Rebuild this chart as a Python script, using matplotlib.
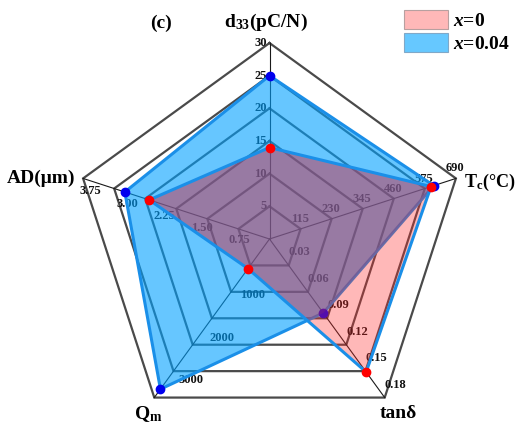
import numpy as np
import matplotlib
matplotlib.use('Agg')
import matplotlib.pyplot as plt
from matplotlib.patches import Polygon, Patch

# ---------------- data ----------------
axis_titles = ['d$_{33}$(pC/N)', 'T$_\\mathrm{c}$(°C)', 'tanδ', 'Q$_\\mathrm{m}$', 'AD(μm)']
axis_max = [30, 690, 0.18, 3750, 3.75]
series_labels = ['$x$=0', '$x$=0.04']
x0_values = [14, 598, 0.151, 700, 2.42]
x004_values = [25, 608, 0.084, 3550, 2.91]

d33_ticks = [5, 10, 15, 20, 25, 30]
tc_ticks = [115, 230, 345, 460, 575, 690]
tand_ticks = [0.03, 0.06, 0.09, 0.12, 0.15, 0.18]
tand_tick_labels = ['0.03', '0.06', '0.09', '0.12', '0.15', '0.18']
qm_ticks = [1000, 2000, 3000]
ad_ticks = [0.75, 1.50, 2.25, 3.00, 3.75]
ad_tick_labels = ['0.75', '1.50', '2.25', '3.00', '3.75']
n_rings = 6

# ---------------- style ----------------
plt.rcParams['font.family'] = ['Liberation Serif', 'DejaVu Serif']
plt.rcParams['font.weight'] = 'bold'
plt.rcParams['mathtext.fontset'] = 'custom'
plt.rcParams['mathtext.rm'] = 'Liberation Serif:bold'
plt.rcParams['mathtext.it'] = 'Liberation Serif:italic:bold'
plt.rcParams['mathtext.bf'] = 'Liberation Serif:bold'

W, H = 518, 432
CX, CY, R = 269.5, 239.0, 196.0

fig = plt.figure(figsize=(W / 100, H / 100), dpi=100)
ax = fig.add_axes([0, 0, 1, 1])
ax.set_xlim(-CX / R, (W - CX) / R)
ax.set_ylim(-(H - CY) / R, CY / R)
ax.set_aspect('equal')
ax.axis('off')

angles = np.deg2rad(90 - 72 * np.arange(5))


def xy(frac, i):
    return frac * np.cos(angles[i]), frac * np.sin(angles[i])


def pix(px, py):
    return (px - CX) / R, (CY - py) / R


# grid rings
for k in range(1, n_rings + 1):
    f = k / n_rings
    xs = [f * np.cos(a) for a in angles] + [f * np.cos(angles[0])]
    ys = [f * np.sin(a) for a in angles] + [f * np.sin(angles[0])]
    ax.plot(xs, ys, color='#4a4a4a', lw=1.6, zorder=1, solid_joinstyle='miter')

# spokes
for a in angles:
    ax.plot([0, np.cos(a)], [0, np.sin(a)], color='#1a1a1a', lw=0.8, zorder=1.2)

# tick labels
tk = dict(fontsize=9, fontweight='bold', textcoords='offset points', zorder=1.5,
          color='#111111')
P = 0.72  # px -> pt


def tick_labels(i, ticks, labels, ha, dx, dy):
    for t, lab in zip(ticks, labels):
        x, y = xy(t / axis_max[i], i)
        ax.annotate(lab, (x, y), xytext=(dx * P, dy * P), ha=ha, va='center', **tk)


tick_labels(0, d33_ticks, [str(t) for t in d33_ticks], 'right', -3, 0)
tick_labels(1, tc_ticks, [str(t) for t in tc_ticks], 'center', -1, 10)
tick_labels(2, tand_ticks, tand_tick_labels, 'left', 0, 13)
tick_labels(3, qm_ticks, [str(t) for t in qm_ticks], 'left', 1, -14)
tick_labels(4, ad_ticks, ad_tick_labels, 'left', -4, -13)


def series_xy(vals):
    fr = [v / m for v, m in zip(vals, axis_max)]
    pts = np.array([xy(f, i) for i, f in enumerate(fr)])
    return pts


edge_color = '#1a8fe8'

# x = 0.04 (blue)
pb = series_xy(x004_values)
blue_poly = Polygon(pb, closed=True, facecolor=(0.0, 0.63, 1.0), alpha=0.6,
                    edgecolor='none', zorder=2)
ax.add_patch(blue_poly)
ax.plot(np.append(pb[:, 0], pb[0, 0]), np.append(pb[:, 1], pb[0, 1]),
        color=edge_color, lw=2.2, zorder=2.1, solid_joinstyle='miter')
ax.plot(pb[:, 0], pb[:, 1], 'o', color='#0000ee', ms=6, zorder=2.2)

# x = 0 (red)
pr = series_xy(x0_values)
red_poly = Polygon(pr, closed=True, facecolor=(1.0, 0.16, 0.16), alpha=0.33,
                   edgecolor='none', zorder=3)
ax.add_patch(red_poly)
ov = Polygon(pr, closed=True, facecolor=(0.6, 0.2, 0.4), alpha=0.25,
             edgecolor='none', zorder=3.05)
ax.add_patch(ov)
ov.set_clip_path(blue_poly)
ax.plot(np.append(pr[:, 0], pr[0, 0]), np.append(pr[:, 1], pr[0, 1]),
        color=edge_color, lw=2.2, zorder=3.1, solid_joinstyle='miter')
ax.plot(pr[:, 0], pr[:, 1], 'o', color='#ff0000', ms=6, zorder=3.2)

# axis titles
tt = dict(fontsize=14, fontweight='bold', zorder=5)
ax.text(*pix(266, 22), axis_titles[0], ha='center', va='center', **tt)
ax.text(*pix(516, 182), axis_titles[1], ha='right', va='center',
        fontsize=13, fontweight='bold', zorder=5)
ax.text(*pix(398, 414), axis_titles[2], ha='center', va='center', **tt)
ax.text(*pix(148, 414), axis_titles[3], ha='center', va='center', **tt)
ax.text(*pix(75, 178), axis_titles[4], ha='right', va='center', **tt)
ax.text(*pix(161, 23), '(c)', ha='center', va='center', **tt)

# legend
handles = [Patch(facecolor='#ffb8b8', edgecolor='#b8a0a0', lw=0.8),
           Patch(facecolor='#66c8ff', edgecolor='#80a8c8', lw=0.8)]
leg = ax.legend(handles, series_labels, loc='upper left',
                bbox_to_anchor=(404 / W, 1 - 10 / H), bbox_transform=fig.transFigure,
                frameon=False, fontsize=14, handlelength=2.27, handleheight=1.1,
                handletextpad=0.25, labelspacing=0.15, borderpad=0, borderaxespad=0)
leg.set_zorder(6)

fig.savefig('out.png', dpi=100)
